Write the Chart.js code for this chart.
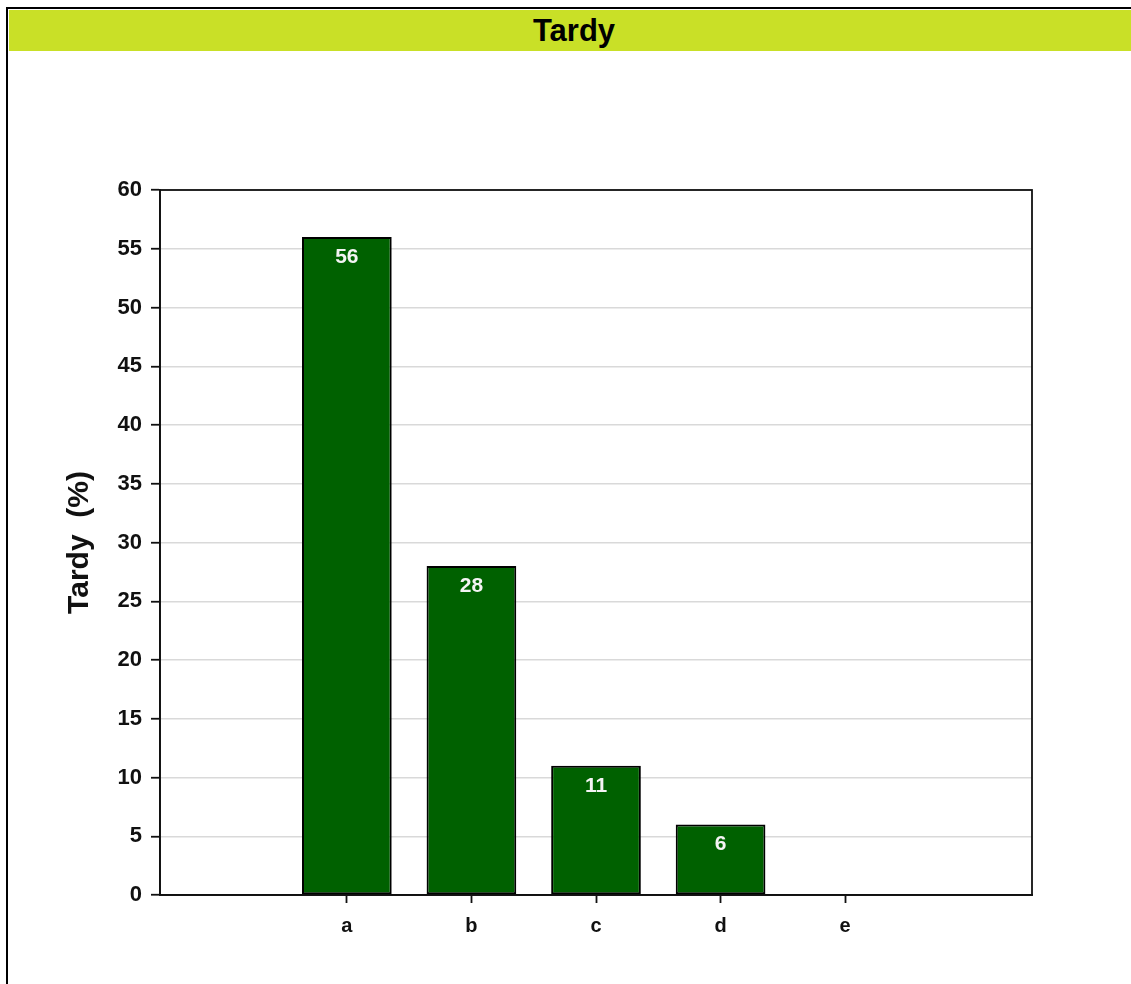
<!DOCTYPE html>
<html>
<head>
<meta charset="utf-8">
<script src="https://cdn.jsdelivr.net/npm/chart.js@4/dist/chart.umd.min.js"></script>
<style>
  html, body { margin: 0; padding: 0; background: #fff; }
  body { width: 1131px; height: 984px; position: relative; overflow: hidden; font-family: "Liberation Sans", Arial, sans-serif; }
  #frame { position: absolute; left: 6px; top: 7px; right: 0; bottom: 0; border-left: 2px solid #000; border-top: 2px solid #000; }
  #title { position: absolute; left: 9px; top: 10px; right: 0; height: 41px; padding-left: 8px; background: #c9e027; text-align: center; font-weight: bold; font-size: 31px; line-height: 41px; color: #000; }
  #chart { position: absolute; left: 0; top: 0; }
</style>
</head>
<body>
<div id="frame"></div>
<div id="title">Tardy</div>
<canvas id="chart" width="1131" height="984"></canvas>
<script>
const categories = ['a', 'b', 'c', 'd', 'e']
const tardyPct = [56, 28, 11, 6, 0]
const yMin = 0
const yMax = 60
const yStep = 5

// one empty slot on each side, like the original axis
const labels = ['', ...categories, '']
const values = [null, ...tardyPct, null]

const FONT = '"Liberation Sans", Arial, sans-serif'

const valueLabels = {
  id: 'valueLabels',
  afterDatasetsDraw(chart) {
    const ctx = chart.ctx
    const meta = chart.getDatasetMeta(0)
    ctx.save()
    ctx.fillStyle = '#f4f4f4'
    ctx.font = 'bold 21px ' + FONT
    ctx.textAlign = 'center'
    ctx.textBaseline = 'middle'
    meta.data.forEach((bar, i) => {
      const v = values[i]
      if (!v) return
      ctx.fillText(String(v), bar.x, bar.y + 20)
    })
    ctx.restore()
  }
}

const plotBox = {
  id: 'plotBox',
  afterDraw(chart) {
    const a = chart.chartArea
    const ctx = chart.ctx
    ctx.save()
    ctx.strokeStyle = '#111'
    ctx.lineWidth = 1.8
    ctx.strokeRect(a.left, a.top, a.right - a.left, a.bottom - a.top)
    ctx.restore()
  }
}

new Chart(document.getElementById('chart').getContext('2d'), {
  type: 'bar',
  data: {
    labels: labels,
    datasets: [{
      data: values,
      backgroundColor: '#006100',
      borderColor: '#000',
      borderWidth: 2,
      borderSkipped: false,
      barPercentage: 0.72,
      categoryPercentage: 1
    }]
  },
  options: {
    responsive: false,
    animation: false,
    layout: {
      padding: { top: 190, left: 40, right: 99, bottom: 29 }
    },
    plugins: {
      legend: { display: false },
      tooltip: { enabled: false }
    },
    scales: {
      x: {
        offset: true,
        grid: {
          offset: false,
          drawOnChartArea: false,
          tickLength: 8,
          tickWidth: 1.8,
          tickColor: (c) => labels[c.index] ? '#111' : 'rgba(0,0,0,0)'
        },
        border: { color: '#111', width: 1.8 },
        ticks: {
          autoSkip: false,
          maxRotation: 0,
          padding: 11,
          color: '#111',
          font: { family: FONT, size: 20, weight: 'bold' }
        },
        afterFit: (s) => { s.height = 60 }
      },
      y: {
        min: yMin,
        max: yMax,
        ticks: {
          stepSize: yStep,
          padding: 9,
          color: '#111',
          font: { family: FONT, size: 22, weight: 'bold' }
        },
        grid: {
          color: '#d9d9d9',
          lineWidth: 1.5,
          tickColor: '#111',
          tickLength: 9,
          tickWidth: 1.8
        },
        border: { color: '#111', width: 1.8 },
        title: {
          display: true,
          text: 'Tardy  (%)',
          color: '#111',
          font: { family: FONT, size: 30, weight: 'bold' },
          padding: { top: 22, bottom: 0 }
        },
        afterFit: (s) => { s.width = 120 }
      }
    }
  },
  plugins: [valueLabels, plotBox]
})
</script>
</body>
</html>
